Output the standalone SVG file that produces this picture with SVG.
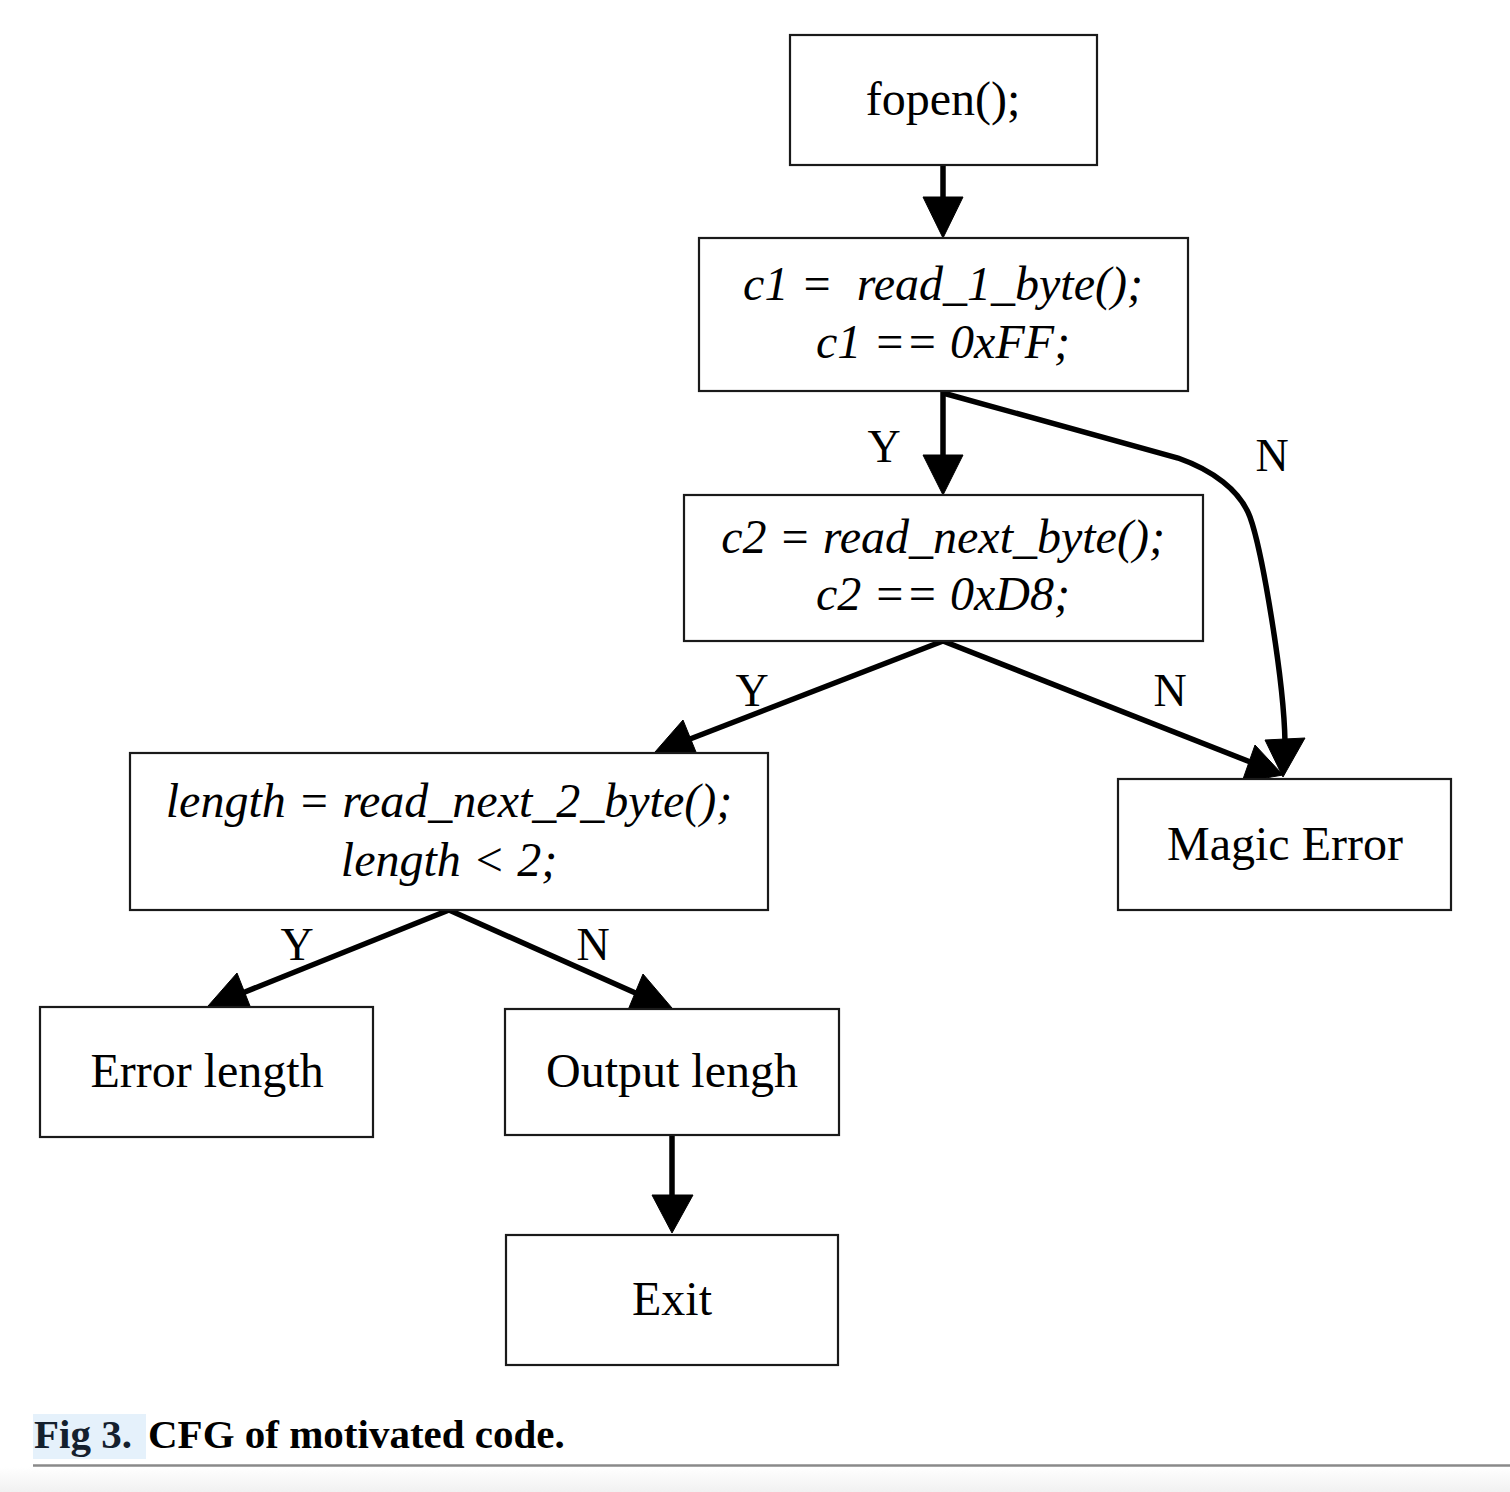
<svg xmlns="http://www.w3.org/2000/svg" width="1510" height="1492" viewBox="0 0 1510 1492">
<defs>
<style>
.box{fill:#fff;stroke:#1a1a1a;stroke-width:2.2}
.t{font-family:"Liberation Serif","Times New Roman",serif;font-size:48px;fill:#000;text-anchor:middle}
.i{font-style:italic;white-space:pre}
.lbl{font-family:"Liberation Serif","Times New Roman",serif;font-size:46px;fill:#000;text-anchor:middle}
.edge{fill:none;stroke:#000;stroke-width:5.5}
.head{fill:#000;stroke:#000;stroke-width:1}
.cap{font-family:"Liberation Serif","Times New Roman",serif;font-size:41px;font-weight:bold}
</style>
<linearGradient id="fade" x1="0" y1="0" x2="0" y2="1">
<stop offset="0" stop-color="#ffffff"/>
<stop offset="1" stop-color="#f1f1f1"/>
</linearGradient>
</defs>
<rect x="0" y="0" width="1510" height="1492" fill="#fff"/>

<g id="edges">
<line class="edge" x1="943" y1="165" x2="943" y2="200"/>
<polygon class="head" points="923,197 963,197 943,238"/>
<line class="edge" x1="943" y1="391" x2="943" y2="458"/>
<polygon class="head" points="923,455 963,455 943,495"/>
<path class="edge" d="M943,393 L1178,458 C1212,470 1240,490 1250,517 C1262,550 1284,680 1285,742"/>
<polygon class="head" points="1265,740 1305,738 1283,777"/>
<line class="edge" x1="943" y1="641" x2="690" y2="739"/>
<polygon class="head" points="655,752 698,757 683,720"/>
<line class="edge" x1="943" y1="641" x2="1258" y2="765"/>
<polygon class="head" points="1242,782 1283,775 1255,745"/>
<line class="edge" x1="449" y1="910" x2="240" y2="994"/>
<polygon class="head" points="208,1006 250,1006 237,973"/>
<line class="edge" x1="449" y1="910" x2="640" y2="995"/>
<polygon class="head" points="628,1010 672,1008 643,974"/>
<line class="edge" x1="672" y1="1135" x2="672" y2="1198"/>
<polygon class="head" points="652,1195 693,1195 672,1233"/>
<text class="lbl" x="884" y="462">Y</text>
<text class="lbl" x="1272" y="471">N</text>
<text class="lbl" x="752" y="706">Y</text>
<text class="lbl" x="1170" y="706">N</text>
<text class="lbl" x="297" y="960">Y</text>
<text class="lbl" x="593" y="960">N</text>
</g>

<g id="n-fopen">
<rect class="box" x="790" y="35" width="307" height="130"/>
<text class="t" x="943" y="115">fopen();</text>
</g>
<g id="n-c1">
<rect class="box" x="699" y="238" width="489" height="153"/>
<text class="t i" x="943" y="300">c1 =  read_1_byte();</text>
<text class="t i" x="943" y="358">c1 == 0xFF;</text>
</g>
<g id="n-c2">
<rect class="box" x="684" y="495" width="519" height="146"/>
<text class="t i" x="943" y="553">c2 = read_next_byte();</text>
<text class="t i" x="943" y="610">c2 == 0xD8;</text>
</g>
<g id="n-length">
<rect class="box" x="130" y="753" width="638" height="157"/>
<text class="t i" x="449" y="817">length = read_next_2_byte();</text>
<text class="t i" x="449" y="876">length &lt; 2;</text>
</g>
<g id="n-magic">
<rect class="box" x="1118" y="779" width="333" height="131"/>
<text class="t" x="1285" y="860">Magic Error</text>
</g>
<g id="n-errlen">
<rect class="box" x="40" y="1007" width="333" height="130"/>
<text class="t" x="207" y="1087">Error length</text>
</g>
<g id="n-output">
<rect class="box" x="505" y="1009" width="334" height="126"/>
<text class="t" x="672" y="1087">Output lengh</text>
</g>
<g id="n-exit">
<rect class="box" x="506" y="1235" width="332" height="130"/>
<text class="t" x="672" y="1315">Exit</text>
</g>

<g id="caption">
<rect x="33" y="1414" width="113" height="45" fill="#e5f1fb"/>
<text class="cap" x="34" y="1448" fill="#14202e">Fig 3.</text>
<text class="cap" x="148" y="1448" fill="#000">CFG of motivated code.</text>
<rect x="0" y="1467" width="1510" height="25" fill="url(#fade)"/>
<line x1="33" y1="1465.5" x2="1510" y2="1465.5" stroke="#8a8a8a" stroke-width="2.5"/>
</g>
</svg>
